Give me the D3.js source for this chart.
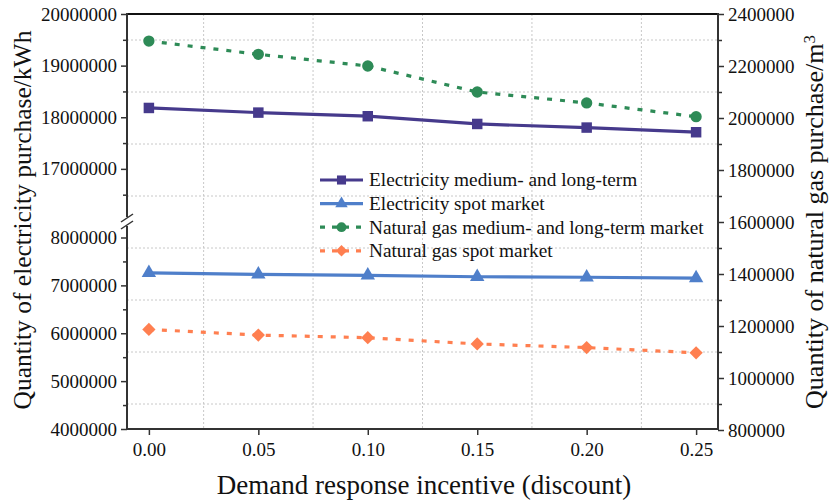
<!DOCTYPE html>
<html>
<head>
<meta charset="utf-8">
<script src="https://cdn.jsdelivr.net/npm/d3@7/dist/d3.min.js"></script>
<style>
  html, body { margin: 0; padding: 0; background: #fff; }
  svg { display: block; }
  text { font-family: "Liberation Serif", "Times New Roman", serif; fill: #111; }
</style>
</head>
<body>
<svg id="chart" width="832" height="502"></svg>
<script>
// Demand response incentive levels (x)
const incentives = [0.00, 0.05, 0.10, 0.15, 0.20, 0.25];

// Electricity purchases (kWh) — left axis, broken into two segments
const elecLongTerm = [18180000, 18090000, 18020000, 17870000, 17800000, 17710000];
const elecSpot     = [7260000, 7230000, 7210000, 7180000, 7170000, 7150000];

// Natural gas purchases (m3) — right axis
const gasLongTerm = [2296000, 2245000, 2200000, 2100000, 2058000, 2005000];
const gasSpot     = [1187000, 1165000, 1155000, 1131000, 1117000, 1097000];

// Tick labels
const xTicks = [0.00, 0.05, 0.10, 0.15, 0.20, 0.25];
const leftUpperTicks = [17000000, 18000000, 19000000, 20000000];
const leftLowerTicks = [4000000, 5000000, 6000000, 7000000, 8000000];
const rightTicks = [800000, 1000000, 1200000, 1400000, 1600000, 1800000, 2000000, 2200000, 2400000];

const seriesNames = [
  "Electricity medium- and long-term",
  "Electricity spot market",
  "Natural gas medium- and long-term market",
  "Natural gas spot market"
];

const svg = d3.select("#chart");
const L = 127, R = 718, T = 14, B = 429;
const breakTop = 217, breakBot = 226;

const x = d3.scaleLinear().domain([-0.01, 0.26]).range([L, R]);
const yUpper = d3.scaleLinear().domain([16000000, 20000000]).range([220.5, T]);
const yLower = d3.scaleLinear().domain([4000000, 8000000]).range([B, 237.5]);
const yRight = d3.scaleLinear().domain([800000, 2400000]).range([B + 1, T]);

const axisColor = "#333";
const fontTick = 19;

// grid (dotted), following the right-axis minor ticks and x minor positions
const gridG = svg.append("g");
const gridY = d3.range(900000, 2400000, 200000);
const gridX = [0.025, 0.075, 0.125, 0.175, 0.225];
gridG.selectAll("line.gy").data(gridY).join("line")
  .attr("x1", L).attr("x2", R)
  .attr("y1", d => yRight(d)).attr("y2", d => yRight(d))
  .attr("stroke", "#c8c8c8").attr("stroke-width", 1).attr("stroke-dasharray", "2,2");
gridG.selectAll("line.gx").data(gridX).join("line")
  .attr("x1", d => x(d)).attr("x2", d => x(d))
  .attr("y1", T).attr("y2", B)
  .attr("stroke", "#c8c8c8").attr("stroke-width", 1).attr("stroke-dasharray", "2,2");

// frame: top line
svg.append("line").attr("x1", L).attr("x2", R + 1).attr("y1", T).attr("y2", T)
  .attr("stroke", "#111").attr("stroke-width", 2);

function styleAxis(g) {
  g.selectAll(".domain").remove();
  g.selectAll("line").attr("stroke", axisColor).attr("stroke-width", 1.5);
  g.selectAll("text").attr("font-size", fontTick).attr("fill", "#111")
    .style("font-family", '"Liberation Serif", serif');
}

// bottom axis
const gx = svg.append("g").attr("transform", `translate(0,${B})`)
  .call(d3.axisBottom(x).tickValues(xTicks).tickFormat(d3.format(".2f")).tickSize(6).tickPadding(8));
styleAxis(gx);
svg.append("line").attr("x1", L).attr("x2", R + 1).attr("y1", B).attr("y2", B)
  .attr("stroke", axisColor).attr("stroke-width", 2);

// left axis, upper segment
const gU = svg.append("g").attr("transform", `translate(${L},0)`)
  .call(d3.axisLeft(yUpper).tickValues(leftUpperTicks).tickFormat(d3.format("d")).tickSize(6).tickPadding(4));
styleAxis(gU);
const gUm = svg.append("g").attr("transform", `translate(${L},0)`)
  .call(d3.axisLeft(yUpper).tickValues([16500000, 17500000, 18500000, 19500000]).tickFormat("").tickSize(4));
styleAxis(gUm);

// left axis, lower segment
const gLw = svg.append("g").attr("transform", `translate(${L},0)`)
  .call(d3.axisLeft(yLower).tickValues(leftLowerTicks).tickFormat(d3.format("d")).tickSize(6).tickPadding(4));
styleAxis(gLw);
const gLm = svg.append("g").attr("transform", `translate(${L},0)`)
  .call(d3.axisLeft(yLower).tickValues([4500000, 5500000, 6500000, 7500000]).tickFormat("").tickSize(4));
styleAxis(gLm);

// left axis line with break
svg.append("line").attr("x1", L).attr("x2", L).attr("y1", T - 1).attr("y2", breakTop)
  .attr("stroke", axisColor).attr("stroke-width", 2);
svg.append("line").attr("x1", L).attr("x2", L).attr("y1", breakBot).attr("y2", B + 1)
  .attr("stroke", axisColor).attr("stroke-width", 2);
[breakTop + 1, breakBot - 1].forEach(yy => {
  svg.append("line").attr("x1", L - 6).attr("x2", L + 6).attr("y1", yy + 4).attr("y2", yy - 4)
    .attr("stroke", axisColor).attr("stroke-width", 1.5);
});

// right axis
const gR = svg.append("g").attr("transform", `translate(${R},0)`)
  .call(d3.axisRight(yRight).tickValues(rightTicks).tickFormat(d3.format("d")).tickSize(6).tickPadding(4));
styleAxis(gR);
const gRm = svg.append("g").attr("transform", `translate(${R},0)`)
  .call(d3.axisRight(yRight).tickValues(d3.range(900000, 2400000, 200000)).tickFormat("").tickSize(4));
styleAxis(gRm);
svg.append("line").attr("x1", R).attr("x2", R).attr("y1", T - 1).attr("y2", B + 1)
  .attr("stroke", axisColor).attr("stroke-width", 2);

// series definitions (diamond = square turned 45 degrees)
const series = [
  { name: seriesNames[0], values: elecLongTerm, y: yUpper, color: "#463A8C", dash: null, marker: d3.symbolSquare, size: 110, rot: 0 },
  { name: seriesNames[1], values: elecSpot, y: yLower, color: "#4F7FCA", dash: null, marker: d3.symbolTriangle, size: 90, rot: 0 },
  { name: seriesNames[2], values: gasLongTerm, y: yRight, color: "#2E8B57", dash: "5,8", marker: d3.symbolCircle, size: 100, rot: 0 },
  { name: seriesNames[3], values: gasSpot, y: yRight, color: "#FF7F50", dash: "5,8", marker: d3.symbolSquare, size: 88, rot: 45 }
];

const plotG = svg.append("g");
series.forEach(s => {
  const line = d3.line().x((d, i) => x(incentives[i])).y(d => s.y(d));
  plotG.append("path").datum(s.values)
    .attr("d", line).attr("fill", "none")
    .attr("stroke", s.color).attr("stroke-width", 3.2)
    .attr("stroke-dasharray", s.dash);
  plotG.selectAll(null).data(s.values).join("path")
    .attr("transform", (d, i) => `translate(${x(incentives[i])},${s.y(d)}) rotate(${s.rot})`)
    .attr("d", d3.symbol(s.marker, s.size))
    .attr("fill", s.color);
});

// legend
const legend = svg.append("g").attr("transform", "translate(320,180)");
series.forEach((s, i) => {
  const g = legend.append("g").attr("transform", `translate(0,${i * 23.6})`);
  g.append("line").attr("x1", 0).attr("x2", 43).attr("y1", 0).attr("y2", 0)
    .attr("stroke", s.color).attr("stroke-width", 3.2)
    .attr("stroke-dasharray", s.dash ? "5,7" : null);
  g.append("path").attr("transform", `translate(21.5,0) rotate(${s.rot})`)
    .attr("d", d3.symbol(s.marker, s.size * 0.75)).attr("fill", s.color);
  g.append("text").attr("x", 49).attr("y", 0).attr("dy", "0.33em")
    .attr("font-size", 19.3).text(s.name);
});

// axis titles
svg.append("text")
  .attr("x", 424).attr("y", 494)
  .attr("text-anchor", "middle").attr("font-size", 27)
  .text("Demand response incentive (discount)");

svg.append("text")
  .attr("transform", "translate(31,220) rotate(-90)")
  .attr("text-anchor", "middle").attr("font-size", 25.5)
  .text("Quantity of electricity purchase/kWh");

const rt = svg.append("text")
  .attr("transform", "translate(823,222) rotate(-90)")
  .attr("text-anchor", "middle").attr("font-size", 26);
rt.append("tspan").text("Quantity of natural gas purchase/m");
rt.append("tspan").attr("dy", "-0.45em").attr("font-size", 17).text("3");
</script>
</body>
</html>
